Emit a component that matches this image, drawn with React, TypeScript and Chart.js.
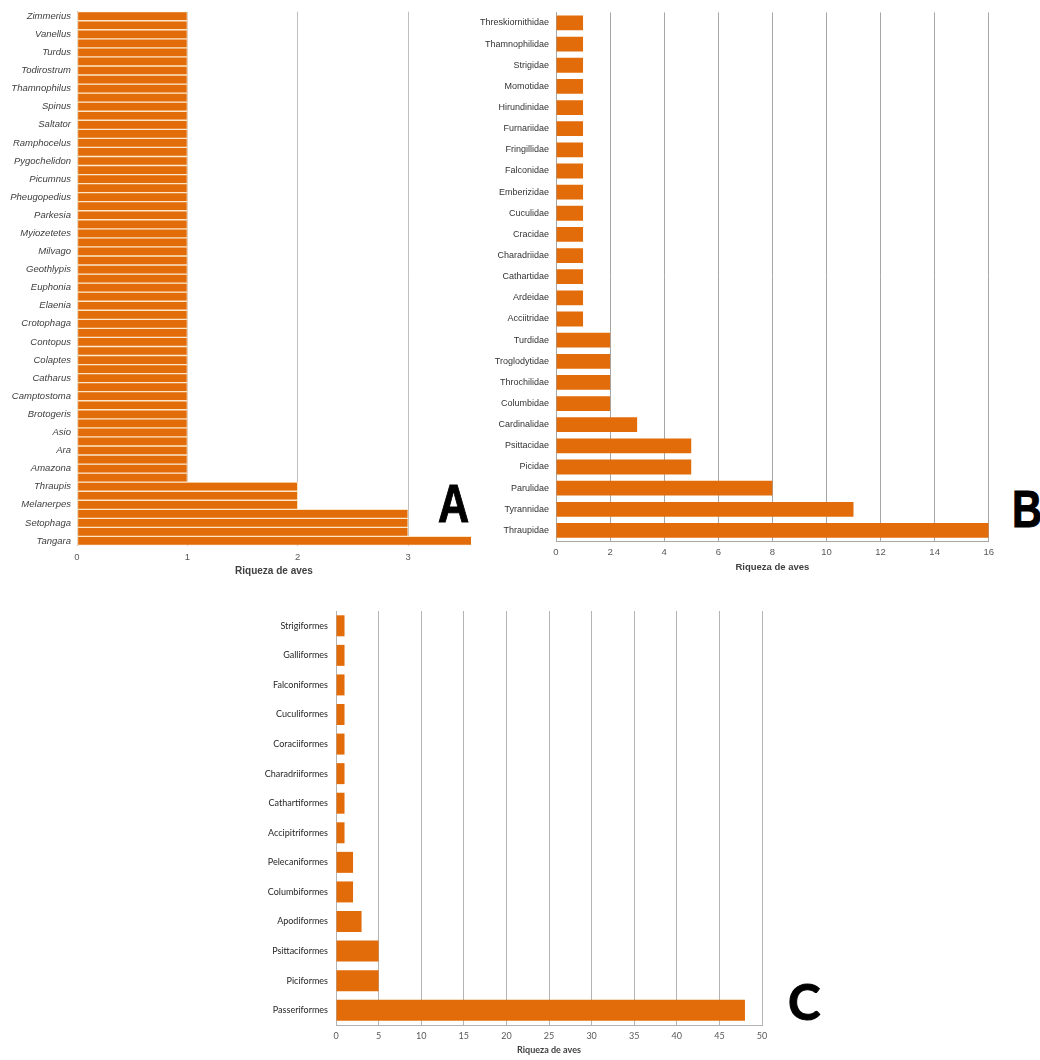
import React, { useEffect, useRef } from "react";
import { Chart, registerables } from "chart.js";

Chart.register(...registerables);

// Panel A – genera (index 0 = bottom bar)
const generaLabels = [
  "Tangara", "Myiarchus", "Setophaga", "Sporophila", "Melanerpes", "Pionus", "Thraupis",
  "Amazilia", "Amazona", "Anthracothorax", "Ara", "Ardea", "Asio", "Basileuterus", "Brotogeris",
  "Buteo", "Camptostoma", "Cathartes", "Catharus", "Coereba", "Colaptes", "Columbina", "Contopus",
  "Coragyps", "Crotophaga", "Diglossa", "Elaenia", "Empidonax", "Euphonia", "Forpus", "Geothlypis",
  "Leptotila", "Milvago", "Momotus", "Myiozetetes", "Ortalis", "Parkesia", "Pheucticus",
  "Pheugopedius", "Phimosus", "Picumnus", "Pitangus", "Pygochelidon", "Pyrrhomyias", "Ramphocelus",
  "Sakesphorus", "Saltator", "Sicalis", "Spinus", "Synallaxis", "Thamnophilus", "Tiaris",
  "Todirostrum", "Troglodytes", "Turdus", "Tyrannus", "Vanellus", "Volatinia", "Zimmerius",
];
const generaValues = [
  4, 3, 3, 3, 2, 2, 2,
  1, 1, 1, 1, 1, 1, 1, 1,
  1, 1, 1, 1, 1, 1, 1, 1,
  1, 1, 1, 1, 1, 1, 1, 1,
  1, 1, 1, 1, 1, 1, 1,
  1, 1, 1, 1, 1, 1, 1,
  1, 1, 1, 1, 1, 1, 1,
  1, 1, 1, 1, 1, 1, 1,
];
const genusAxisMax = 3.57;
const genusTicks = [0, 1, 2, 3];

// Panel B – families (index 0 = bottom bar)
const familyLabels = [
  "Thraupidae", "Tyrannidae", "Parulidae", "Picidae", "Psittacidae", "Cardinalidae",
  "Columbidae", "Throchilidae", "Troglodytidae", "Turdidae", "Acciitridae", "Ardeidae",
  "Cathartidae", "Charadriidae", "Cracidae", "Cuculidae", "Emberizidae", "Falconidae",
  "Fringillidae", "Furnariidae", "Hirundinidae", "Momotidae", "Strigidae", "Thamnophilidae",
  "Threskiornithidae",
];
const familyValues = [16, 11, 8, 5, 5, 3, 2, 2, 2, 2, 1, 1, 1, 1, 1, 1, 1, 1, 1, 1, 1, 1, 1, 1, 1];

// Panel C – orders (index 0 = bottom bar)
const orderLabels = [
  "Passeriformes", "Piciformes", "Psittaciformes", "Apodiformes", "Columbiformes",
  "Pelecaniformes", "Accipitriformes", "Cathartiformes", "Charadriiformes", "Coraciiformes",
  "Cuculiformes", "Falconiformes", "Galliformes", "Strigiformes",
];
const orderValues = [48, 5, 5, 3, 2, 2, 1, 1, 1, 1, 1, 1, 1, 1];

const axisTitle = "Riqueza de aves";
const ORANGE = "#E36C0A";
const ARIAL = "'Liberation Sans', Arial, sans-serif";
const CAL = "Lato, 'Open Sans', sans-serif";

type PanelCfg = {
  left: number; top: number; width: number; height: number;
  labels: string[]; values: number[];
  max: number; step: number; tickList?: number[];
  pad: { top: number; right: number; bottom: number; left: number };
  yWidth: number; xHeight: number;
  labelFont: any; tickFont: any; titleFont: any;
  labelColor: string; gridColor: string;
  barPct: number; border?: { color: string; width: number };
  everyOther?: boolean; clip?: boolean; xBorder: boolean; labelPad: number; tickPad: number;
};

function Panel({ cfg }: { cfg: PanelCfg }) {
  const ref = useRef<HTMLCanvasElement | null>(null);
  useEffect(() => {
    if (!ref.current) return;
    const c = cfg;
    const ds: any = {
      data: c.values,
      backgroundColor: ORANGE,
      borderColor: c.border ? c.border.color : ORANGE,
      borderWidth: c.border ? c.border.width : 0,
      borderSkipped: false,
      barPercentage: c.barPct,
      categoryPercentage: 1,
    };
    if (c.clip) ds.clip = 0;
    const chart = new Chart(ref.current, {
      type: "bar",
      data: { labels: c.labels, datasets: [ds] },
      options: {
        indexAxis: "y",
        animation: false,
        responsive: false,
        devicePixelRatio: 1,
        layout: { padding: c.pad },
        plugins: { legend: { display: false }, tooltip: { enabled: false } },
        scales: {
          x: {
            type: "linear",
            min: 0,
            max: c.max,
            grid: { color: c.gridColor, drawTicks: false, lineWidth: 1 },
            border: { display: c.xBorder, color: c.gridColor },
            ticks: { stepSize: c.step, padding: c.tickPad, font: c.tickFont, color: "#595959" },
            afterBuildTicks: (s: any) => {
              if (c.tickList) s.ticks = c.tickList.map((v) => ({ value: v }));
            },
            title: { display: true, text: axisTitle, font: c.titleFont, color: "#404040", padding: { top: 2, bottom: 4 } },
            afterFit: (s: any) => { s.height = c.xHeight; },
          },
          y: {
            type: "category",
            reverse: true,
            grid: { display: false, drawTicks: false },
            border: { display: true, color: c.gridColor },
            ticks: {
              autoSkip: false,
              padding: c.labelPad,
              font: c.labelFont,
              color: c.labelColor,
              callback: (v: any) => (c.everyOther && v % 2 !== 0 ? "" : c.labels[v]),
            },
            afterFit: (s: any) => { s.width = c.yWidth; },
          },
        },
      } as any,
    });
    return () => chart.destroy();
  }, []);
  return (
    <canvas
      ref={ref}
      width={cfg.width}
      height={cfg.height}
      style={{ position: "absolute", left: cfg.left, top: cfg.top, width: cfg.width, height: cfg.height }}
    />
  );
}

const panelA: PanelCfg = {
  left: 0, top: 0, width: 480, height: 590,
  labels: generaLabels, values: generaValues,
  max: genusAxisMax, step: 1, tickList: genusTicks,
  pad: { top: 9, right: 9, bottom: 9, left: 0 },
  yWidth: 77, xHeight: 35.5,
  labelFont: { family: ARIAL, size: 9.5, style: "italic" },
  tickFont: { family: ARIAL, size: 9.5 },
  titleFont: { family: ARIAL, size: 10, weight: "bold" },
  labelColor: "#404040", gridColor: "#bfbfbf",
  barPct: 1, border: { color: "#FCE6C6", width: 1 },
  everyOther: true, clip: true, xBorder: false, labelPad: 6, tickPad: 6,
};

const panelB: PanelCfg = {
  left: 470, top: 0, width: 530, height: 590,
  labels: familyLabels, values: familyValues,
  max: 16, step: 2,
  pad: { top: 6, right: 10, bottom: 13, left: 0 },
  yWidth: 86, xHeight: 36,
  labelFont: { family: ARIAL, size: 9 },
  tickFont: { family: ARIAL, size: 9.5 },
  titleFont: { family: ARIAL, size: 9.5, weight: "bold" },
  labelColor: "#333333", gridColor: "#a6a6a6",
  barPct: 0.7, xBorder: true, labelPad: 7, tickPad: 6,
};

const panelC: PanelCfg = {
  left: 250, top: 595, width: 530, height: 465,
  labels: orderLabels, values: orderValues,
  max: 50, step: 5,
  pad: { top: 16, right: 18, bottom: 1, left: 0 },
  yWidth: 86, xHeight: 34,
  labelFont: { family: CAL, size: 9 },
  tickFont: { family: CAL, size: 9 },
  titleFont: { family: CAL, size: 9, weight: "bold" },
  labelColor: "#262626", gridColor: "#b3b3b3",
  barPct: 0.71, xBorder: true, labelPad: 8, tickPad: 6,
};

const letterBase: React.CSSProperties = {
  position: "absolute",
  lineHeight: 1,
  fontWeight: "bold",
  color: "#000",
  transformOrigin: "left top",
  whiteSpace: "nowrap",
  WebkitTextStroke: "1px #000",
};

export default function App() {
  return (
    <div style={{ position: "absolute", left: 0, top: 0, width: 1040, height: 1060, background: "#fff", overflow: "hidden" }}>
      <Panel cfg={panelA} />
      <Panel cfg={panelB} />
      <Panel cfg={panelC} />
      <div style={{ ...letterBase, left: 438, top: 476, fontSize: 54, fontFamily: ARIAL, transform: "scaleX(0.8)" }}>A</div>
      <div style={{ ...letterBase, left: 1012, top: 483, fontSize: 52, fontFamily: ARIAL, transform: "scaleX(0.8)" }}>B</div>
      <div style={{ ...letterBase, left: 788, top: 977, fontSize: 49, fontFamily: CAL }}>C</div>
    </div>
  );
}
